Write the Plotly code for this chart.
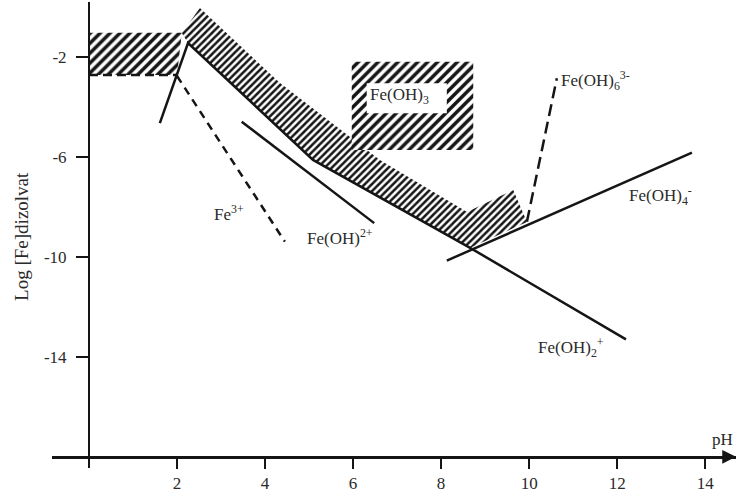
import plotly.graph_objects as go

# ---- data (pH, log[Fe]) ----
left_ph = [0.0, 2.11, 2.0, 0.0]
left_log = [-1.03, -1.03, -2.72, -2.72]

band_ph = [2.11, 2.52, 4.34, 6.61, 8.59, 9.64, 9.95, 8.66, 5.09, 2.25]
band_log = [-1.04, -0.04, -3.04, -6.12, -8.20, -7.32, -8.60, -9.64, -6.12, -1.44]

box_ph = [5.97, 8.73, 8.73, 5.97, 5.97, 6.31, 6.31, 8.13, 8.13, 6.31, 5.97]
box_log = [-2.19, -2.19, -5.72, -5.72, -3.05, -3.05, -4.25, -4.25, -3.05, -3.05, -3.05]

main_ph = [1.61, 2.25, 5.09, 8.66, 12.2]
main_log = [-4.65, -1.44, -6.12, -9.64, -13.3]

fe3_dash_ph = [2.0, 4.45]
fe3_dash_log = [-2.76, -9.39]

left_bottom_ph = [0.0, 2.0]
left_bottom_log = [-2.72, -2.72]

feoh2_ph = [3.47, 6.48]
feoh2_log = [-4.59, -8.65]

feoh4_ph = [8.13, 13.70]
feoh4_log = [-10.15, -5.83]

feoh6_ph = [9.95, 10.63]
feoh6_log = [-8.59, -2.85]

label_text = ["Fe<sup>3+</sup>", "Fe(OH)<sup>2+</sup>", "Fe(OH)<sub>3</sub>",
              "Fe(OH)<sub>6</sub><sup>3-</sup>", "Fe(OH)<sub>4</sub><sup>-</sup>",
              "Fe(OH)<sub>2</sub><sup>+</sup>"]
label_ph = [3.18, 5.70, 7.05, 11.5, 12.98, 10.94]
label_log = [-8.24, -9.22, -3.56, -2.94, -7.56, -13.64]

x_ticks = [2, 4, 6, 8, 10, 12, 14]
x_tick_text = ["2", "4", "6", "8", "10", "12", "14"]
y_ticks = [-2, -6, -10, -14]
y_tick_text = ["-2", "-6", "-10", "-14"]

INK = "#151515"
TXT = "#2a2a2a"
FONT = "Liberation Serif, Times New Roman, serif"

fig = go.Figure()

def hatch(xs, ys, size, solidity):
    fig.add_trace(go.Scatter(
        x=xs, y=ys, mode="lines", fill="toself", line=dict(width=0, color=INK),
        fillcolor="white",
        fillpattern=dict(shape="/", size=size, solidity=solidity, fgcolor=INK, bgcolor="white"),
        hoverinfo="skip", showlegend=False))

hatch(left_ph, left_log, 7, 0.5)
hatch(band_ph, band_log, 5, 0.5)
hatch(box_ph, box_log, 7, 0.5)

def line(xs, ys, dash="solid", width=2.5):
    fig.add_trace(go.Scatter(x=xs, y=ys, mode="lines",
                             line=dict(color=INK, width=width, dash=dash),
                             hoverinfo="skip", showlegend=False))

line(main_ph, main_log)
line(feoh2_ph, feoh2_log)
line(feoh4_ph, feoh4_log)
line(fe3_dash_ph, fe3_dash_log, dash="8px,6px")
line(left_bottom_ph, left_bottom_log, dash="9px,5px")
line(feoh6_ph, feoh6_log, dash="12px,6px")

for t, xv, yv in zip(label_text, label_ph, label_log):
    fig.add_annotation(x=xv, y=yv, text=t, showarrow=False,
                       xanchor="center", yanchor="middle",
                       font=dict(family=FONT, size=17, color=TXT))

# axis titles
fig.add_annotation(x=14.39, y=-17.32, text="pH", showarrow=False,
                   xanchor="center", yanchor="middle",
                   font=dict(family=FONT, size=17, color=TXT))
fig.add_annotation(xref="paper", yref="paper", x=-0.0439, y=0.498,
                   xanchor="center", yanchor="middle",
                   text="Log [Fe]dizolvat", textangle=-90, showarrow=False,
                   font=dict(family=FONT, size=19, color=TXT))

# arrow head on pH axis
fig.add_annotation(x=14.7, y=-18, ax=-14, ay=0, text="", showarrow=True,
                   arrowhead=2, arrowsize=1.1, arrowwidth=2.5, arrowcolor=INK)

fig.update_layout(
    template="none",
    width=737, height=499,
    margin=dict(l=52, r=1, t=2, b=31, autoexpand=False),
    paper_bgcolor="white", plot_bgcolor="white",
    showlegend=False,
    xaxis=dict(range=[-0.84, 14.7], anchor="free", position=0.02413,
               automargin=False,
               showline=True, linewidth=2.5, linecolor=INK,
               ticks="outside", ticklen=10, tickwidth=2, tickcolor=INK,
               tickvals=x_ticks, ticktext=x_tick_text,
               showgrid=False, zeroline=False,
               tickfont=dict(family=FONT, size=17, color=TXT)),
    yaxis=dict(range=[-18.45, 0.2], anchor="free", position=0.05405,
               automargin=False,
               showline=True, linewidth=2, linecolor=INK,
               ticks="outside", ticklen=12, tickwidth=1.5, tickcolor=INK,
               tickvals=y_ticks, ticktext=y_tick_text,
               showgrid=False, zeroline=False,
               ticklabelstandoff=6,
               tickfont=dict(family=FONT, size=17, color=TXT)),
)

fig.write_html("out.html",
               config={"displayModeBar": False},
               post_script="document.body.style.margin='0px';document.body.style.overflow='hidden';")
